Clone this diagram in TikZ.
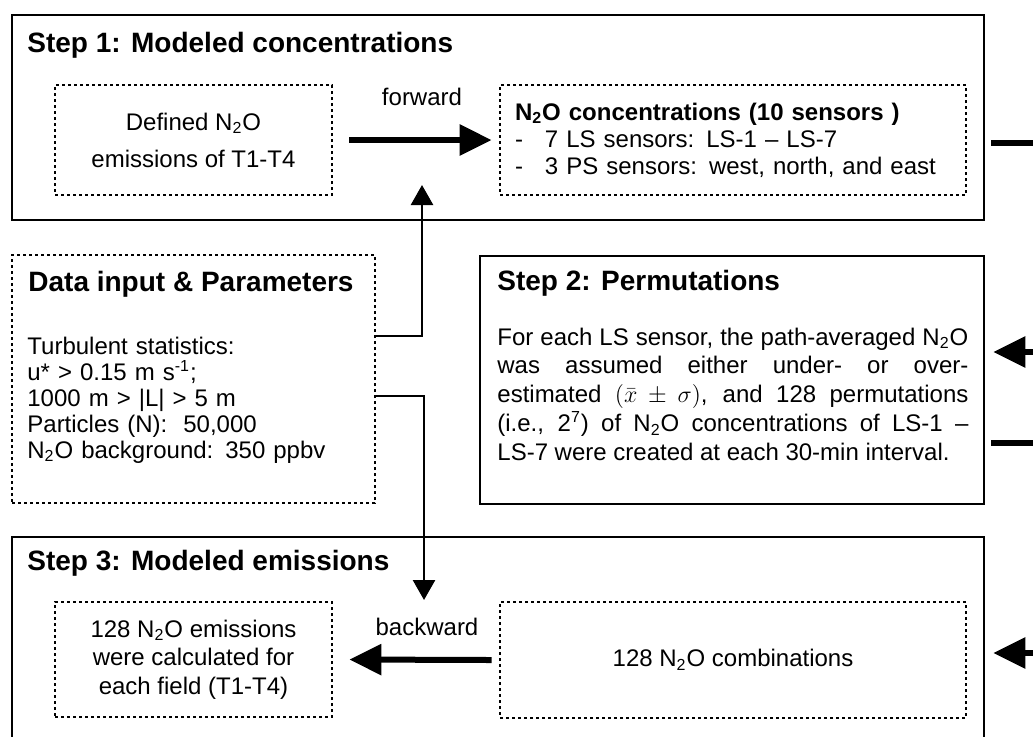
\documentclass[tikz,border=0pt]{standalone}
\usepackage{fontspec}
\setmainfont{Liberation Sans}
\usetikzlibrary{arrows.meta,positioning}
\newcommand{\ntwoo}{N\textsubscript{2}O}

\begin{document}
\begin{tikzpicture}[x=0.5pt,y=-0.5pt,
	every node/.style={inner sep=0pt,font=\fontsize{12}{14}\selectfont},
	stepbox/.style={draw,line width=1.3pt},
	dotbox/.style={draw,line width=1.4pt,dash pattern=on 1.5pt off 1.5pt,align=center},
	steptitle/.style={anchor=base west,font=\fontsize{14}{16}\selectfont\bfseries},
	link/.style={line width=1.3pt,-{Triangle[length=10pt,width=11pt]}},
	bigarrow/.style={line width=3pt,-{Triangle[length=16pt,width=15pt]}},
	bigline/.style={line width=3pt}]
	\useasboundingbox (0,0) rectangle (1033,736);
	% the three steps and the input box
	\node[stepbox,minimum width=486pt,minimum height=102.5pt] (step1) at (498,117.5) {};
	\node[stepbox,minimum width=252pt,minimum height=124pt] (step2) at (732,380) {};
	\node[stepbox,minimum width=486pt,minimum height=101.5pt] (step3) at (498,638.5) {};
	\node[dotbox,minimum width=181.5pt,minimum height=124pt] (data) at (193.5,379) {};
	\node[steptitle] (t1) at (27,52) {Step 1: Modeled concentrations};
	\node[steptitle] (t2) at (497,290) {Step 2: Permutations};
	\node[steptitle] (t3) at (27,570) {Step 3: Modeled emissions};
	\node[steptitle] (t0) at (28,291) {Data input \& Parameters};
	% inner boxes
	\node[dotbox,minimum width=138.5pt,minimum height=55pt,font=\fontsize{12}{18.5}\selectfont] (defin) at (193.5,140)
		{Defined \ntwoo\\emissions of T1-T4};
	\node[dotbox,minimum width=233pt,minimum height=55pt,text width=218pt,inner xsep=7.5pt,align=left,font=\fontsize{12}{13.5}\selectfont] (conc) at (733,140)
		{\textbf{\ntwoo{} concentrations (10 sensors )}\\
		 \makebox[15pt][l]{-}7 LS sensors: LS-1 -- LS-7\\
		 \makebox[15pt][l]{-}3 PS sensors: west, north, and east};
	\node[dotbox,minimum width=138.5pt,minimum height=57.5pt,font=\fontsize{12}{14.25}\selectfont] (emis) at (193.5,659.5)
		{128 \ntwoo{} emissions\\were calculated for\\each field (T1-T4)};
	\node[dotbox,minimum width=233pt,minimum height=58pt] (comb) at (733,660) {128 \ntwoo{} combinations};
	% texts
	\node[anchor=base west,text width=170pt,align=left,font=\fontsize{12}{13}\selectfont] (params) at (27,354)
		{Turbulent statistics:\\
		 u* > 0.15 m s\textsuperscript{-1};\\
		 1000 m > |L| > 5 m\\
		 Particles (N):\ \ 50,000\\
		 \ntwoo{} background: 350 ppbv};
	\node[anchor=base west,text width=235.5pt,align=justify,font=\fontsize{12}{14.4}\selectfont] (perm) at (497,345)
		{For each LS sensor, the path-averaged \ntwoo\linebreak
		 was assumed either under- or over-\linebreak
		 estimated $(\bar{x}\pm\sigma)$, and 128 permutations\linebreak
		 (i.e., 2\textsuperscript{7}) of \ntwoo{} concentrations of LS-1 --\linebreak
		 LS-7 were created at each 30-min interval.};
	\node[anchor=base] (fwd) at (422,105) {forward};
	\node[anchor=base] (bwd) at (427,635) {backward};
	% connectors
	\draw[bigarrow] ([xshift=8pt]defin.east) -- ([xshift=-3.5pt]conc.west);
	\draw[bigarrow] ([xshift=-3.5pt]comb.west) -- ([xshift=8pt]emis.east);
	\coordinate (upend) at (422,185);
	\coordinate (dnend) at (424,600);
	\draw[link] ([yshift=21.5pt]data.east) -| (upend);
	\draw[link] ([yshift=-8.5pt]data.east) -| (dnend);
	% lines leaving to the right
	\coordinate (out1) at (1033,143);
	\coordinate (in2) at (1033,352);
	\coordinate (out2) at (1033,443);
	\coordinate (in3) at (1033,653);
	\draw[bigline] ([xshift=3pt]step1.east |- out1) -- (out1);
	\draw[bigarrow] (in2) -- ([xshift=4pt]step2.east |- in2);
	\draw[bigline] ([xshift=3pt]step2.east |- out2) -- (out2);
	\draw[bigarrow] (in3) -- ([xshift=4pt]step3.east |- in3);
\end{tikzpicture}
\end{document}
